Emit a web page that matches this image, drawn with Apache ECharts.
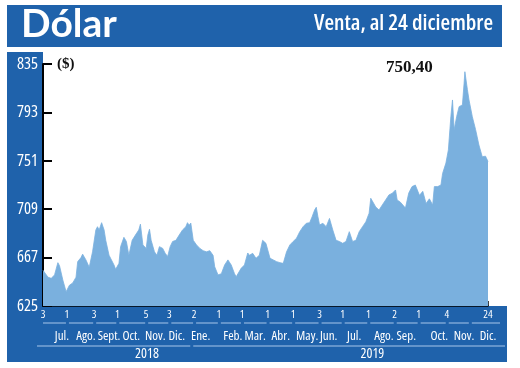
<!DOCTYPE html>
<html><head><meta charset="utf-8">
<script src="https://cdn.jsdelivr.net/npm/echarts@6/dist/echarts.min.js"></script>
<style>html,body{margin:0;padding:0;background:#fff}#c{width:520px;height:368px}</style>
</head><body><div id="c"></div>
<script>
// ---- data ----
const dates = ['2018-07-03','2018-07-05','2018-07-09','2018-07-13','2018-07-17','2018-07-21','2018-07-23','2018-07-27','2018-07-31',
'2018-08-04','2018-08-08','2018-08-12','2018-08-14','2018-08-18','2018-08-20','2018-08-24','2018-08-26','2018-08-28',
'2018-09-01','2018-09-05','2018-09-07','2018-09-09','2018-09-12','2018-09-15','2018-09-17','2018-09-21','2018-09-23','2018-09-27','2018-09-29',
'2018-10-03','2018-10-05','2018-10-09','2018-10-12','2018-10-15','2018-10-19','2018-10-23','2018-10-27','2018-10-29',
'2018-11-01','2018-11-05','2018-11-07','2018-11-09','2018-11-11','2018-11-15','2018-11-18','2018-11-21','2018-11-25','2018-11-28',
'2018-12-01','2018-12-04','2018-12-07','2018-12-11','2018-12-15','2018-12-19','2018-12-23','2018-12-25','2018-12-27','2018-12-29',
'2019-01-01','2019-01-05','2019-01-09','2019-01-13','2019-01-17','2019-01-21','2019-01-25','2019-01-27','2019-01-31',
'2019-02-04','2019-02-08','2019-02-12','2019-02-16','2019-02-20','2019-02-22','2019-02-24','2019-02-28',
'2019-03-04','2019-03-08','2019-03-10','2019-03-14','2019-03-18','2019-03-22','2019-03-26','2019-03-28','2019-03-30',
'2019-04-04','2019-04-08','2019-04-12','2019-04-16','2019-04-20','2019-04-24','2019-04-28',
'2019-05-02','2019-05-06','2019-05-10','2019-05-14','2019-05-18','2019-05-22','2019-05-25','2019-05-28','2019-05-30',
'2019-06-01','2019-06-03','2019-06-07','2019-06-11','2019-06-15','2019-06-19','2019-06-23','2019-06-27',
'2019-07-01','2019-07-05','2019-07-09','2019-07-13','2019-07-17','2019-07-21','2019-07-25','2019-07-29',
'2019-08-02','2019-08-04','2019-08-06','2019-08-10','2019-08-14','2019-08-18','2019-08-22','2019-08-26','2019-08-30',
'2019-09-03','2019-09-05','2019-09-09','2019-09-11','2019-09-15','2019-09-19','2019-09-23','2019-09-27',
'2019-10-02','2019-10-06','2019-10-10','2019-10-14','2019-10-18','2019-10-20','2019-10-24','2019-10-28','2019-10-30',
'2019-11-03','2019-11-06','2019-11-09','2019-11-11','2019-11-13','2019-11-16','2019-11-19','2019-11-23','2019-11-25','2019-11-26','2019-11-29',
'2019-12-01','2019-12-05','2019-12-09','2019-12-13','2019-12-17','2019-12-21','2019-12-24'];
const values = [656,657.7,650,649,652,662.6,660,647.6,637.4,
643,645,650,663.5,667,670,665,666.4,658.6,
672,691,693.8,691,697.3,691,682,669,668,660.6,656.8,
662,676.5,684.6,681,669,682,686.6,691,696,
678,675,686.6,691.6,682,672,669,676.5,675,670.7,
668,676.5,681,682,686.6,691,693.8,697.3,695,697,
682,678,675,673,672,673,669,659,652,
653,660.6,665,660.6,653,650.4,649,657.7,
660.6,671,669,670.7,666.4,669,682,683.7,679.4,
666.4,665,663.5,662.6,662,672,678,
681,683.7,689.5,693.8,696.8,697.3,702.5,708.3,710.7,
702.5,695.3,696.8,693.8,701,691,682,681,
679.4,681,689.5,681,682,689.5,693.8,698,
705.5,718.5,720,711,708.3,712.7,717,721.4,722.8,
725.7,717,715,714,710,723,728.6,730,
721,724.5,714,718,712.7,728.6,728.6,730,740,
749,760.4,789.3,803.8,778,789.3,798,799.5,818,828.3,813,
803.8,789.3,778,764.7,754.6,755,750.4];

const tickDates = ['2018-07-03','2018-08-01','2018-09-03','2018-10-01','2018-11-05','2018-12-03','2019-01-02','2019-02-01','2019-03-01','2019-04-01','2019-05-02','2019-06-03','2019-07-01','2019-08-01','2019-09-02','2019-10-01','2019-11-04','2019-12-24'];
const tickLabels = ['3','1','3','1','5','3','2','1','1','1','1','3','1','1','2','1','4','24'];
const monthStartDates = ['2018-07-03','2018-08-01','2018-09-03','2018-10-01','2018-11-05','2018-12-03','2019-01-02','2019-02-01','2019-03-01','2019-04-01','2019-05-02','2019-06-03','2019-07-01','2019-08-01','2019-09-02','2019-10-01','2019-11-04','2019-12-02'];
const monthLabelDates = ['2018-07-26','2018-08-24','2018-09-21','2018-10-18','2018-11-16','2018-12-12','2019-01-10','2019-02-18','2019-03-17','2019-04-17','2019-05-19','2019-06-14','2019-07-15','2019-08-20','2019-09-16','2019-10-26','2019-11-25','2019-12-24'];
const monthLabels = ['Jul.','Ago.','Sept.','Oct.','Nov.','Dic.','Ene.','Feb.','Mar.','Abr.','May.','Jun.','Jul.','Ago.','Sep.','Oct.','Nov.','Dic.'];
const yearStartDates = ['2018-07-03','2019-01-01'];
const yearLabelDates = ['2018-11-06','2019-08-06'];
const yearLabels = ['2018','2019'];
const yMin = 625, yMax = 835, yStep = 42;
const startDate = '2018-07-03', endDate = '2019-12-24';
const lastValueText = '750,40';

// ---- helpers ----
const ts = s => { const p = s.split('-').map(Number); return Date.UTC(p[0], p[1]-1, p[2]); };
const BLUE = '#1f62ab', AREA = '#7ab0de', LINE = '#a8c6ea';
const COND = "'Open Sans', sans-serif";
const seriesData = dates.map((d, i) => [ts(d), values[i]]);
const tickMap = {}; tickDates.forEach((d, i) => tickMap[ts(d)] = tickLabels[i]);
const monthMap = {}; monthLabelDates.forEach((d, i) => monthMap[ts(d)] = monthLabels[i]);
const yearMap = {}; yearLabelDates.forEach((d, i) => yearMap[ts(d)] = yearLabels[i]);
const xMin = ts(startDate), xMax = ts(endDate);

const baseX = {
  type: 'value', gridIndex: 0, min: xMin, max: xMax, position: 'bottom',
  splitLine: { show: false }, axisTick: { show: false }, axisLine: { show: false }
};
const condLabel = (size, margin) => ({ color: '#fff', fontSize: size, fontFamily: COND, fontWeight: 'condensed', margin, showMinLabel: true, showMaxLabel: true, hideOverlap: false });

const chart = echarts.init(document.getElementById('c'), null, { renderer: 'canvas' });
chart.setOption({
  animation: false,
  backgroundColor: '#fff',
  title: [
    { text: 'Dólar', left: 21, top: 5, padding: 0, textStyle: { color: '#fff', fontSize: 39, fontWeight: 'bold', fontFamily: 'Lato' } },
    { text: 'Venta, al 24 diciembre', right: 27, top: 13, padding: 0, textStyle: { color: '#fff', fontSize: 22, fontWeight: '600 condensed', fontFamily: COND } },
    { text: '($)', left: 57, top: 57, padding: 0, textStyle: { color: '#111', fontSize: 15, fontWeight: 'bold', fontFamily: 'Liberation Serif' } },
    { text: lastValueText, left: 386, top: 59, padding: 0, textStyle: { color: '#111', fontSize: 17, fontWeight: 'bold', fontFamily: 'Liberation Serif' } }
  ],
  grid: { left: 43, right: 32, top: 64, bottom: 62, containLabel: false },
  xAxis: [
    Object.assign({}, baseX, {
      axisLine: { show: true, onZero: false, lineStyle: { color: '#000', width: 1.5 } },
      axisTick: { show: true, inside: true, length: 5, customValues: [xMax], lineStyle: { color: '#000', width: 1.5 } },
      axisLabel: Object.assign(condLabel(11, 3), { customValues: tickDates.map(ts), formatter: v => tickMap[v] || '' })
    }),
    Object.assign({}, baseX, {
      offset: 22,
      axisLabel: Object.assign(condLabel(13, 2), { customValues: monthLabelDates.map(ts), formatter: v => monthMap[v] || '' })
    }),
    Object.assign({}, baseX, {
      offset: 40,
      axisLabel: Object.assign(condLabel(14, 1), { customValues: yearLabelDates.map(ts), formatter: v => yearMap[v] || '' })
    })
  ],
  yAxis: {
    type: 'value', min: yMin, max: yMax, interval: yStep,
    splitLine: { show: false },
    axisLine: { show: true, lineStyle: { color: '#000', width: 2 } },
    axisTick: { show: true, inside: true, length: 9, lineStyle: { color: '#000', width: 2 } },
    axisLabel: { color: '#fff', fontSize: 16.5, fontFamily: COND, fontWeight: 'condensed', margin: 5 }
  },
  series: [{
    type: 'line', xAxisIndex: 0, data: seriesData, symbol: 'none', smooth: false,
    lineStyle: { width: 0.8, color: AREA },
    areaStyle: { color: AREA, opacity: 1, origin: 'start' },
    z: 2
  }]
});

// background bands (behind) and bracket lines computed from the axis scale
const px = d => chart.convertToPixel({ xAxisIndex: 0 }, ts(d));
const gRect = chart.getModel().getComponent('grid').coordinateSystem.getRect();
const right = gRect.x + gRect.width, bottom = gRect.y + gRect.height;
const graphics = [
  { type: 'rect', z: -10, shape: { x: 7, y: 5, width: 495, height: 42 }, style: { fill: BLUE } },
  { type: 'rect', z: -10, shape: { x: 7, y: 52, width: gRect.x - 7, height: 310 }, style: { fill: BLUE } },
  { type: 'rect', z: -10, shape: { x: 7, y: bottom, width: 500, height: 362 - bottom }, style: { fill: BLUE } }
];
monthStartDates.forEach((d, i) => {
  const x1 = px(d) + (i === 0 ? 0 : 2);
  const x2 = i < monthStartDates.length - 1 ? px(monthStartDates[i + 1]) - 1 : right + 12;
  graphics.push({ type: 'line', z: 5, shape: { x1, y1: bottom + 17, x2, y2: bottom + 17 }, style: { stroke: LINE, lineWidth: 1 } });
});
yearStartDates.forEach((d, i) => {
  const x1 = i === 0 ? px(d) - 6 : px(d);
  const x2 = i < yearStartDates.length - 1 ? px(yearStartDates[i + 1]) - 3 : right + 17;
  graphics.push({ type: 'line', z: 5, shape: { x1, y1: bottom + 40, x2, y2: bottom + 40 }, style: { stroke: LINE, lineWidth: 1 } });
});
chart.setOption({ graphic: { elements: graphics } });
</script></body></html>
